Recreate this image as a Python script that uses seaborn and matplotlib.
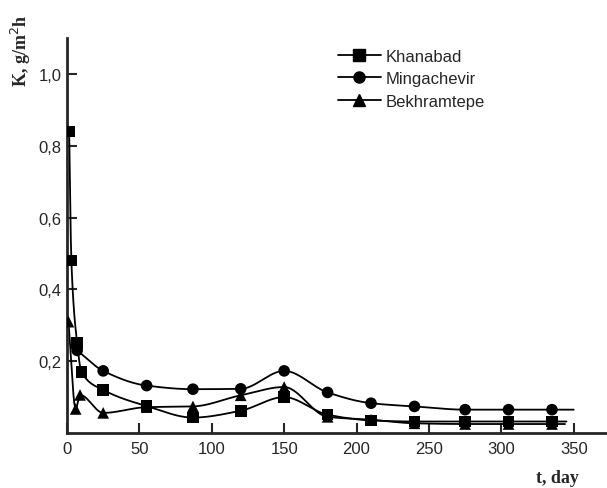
import numpy as np
import pandas as pd
import matplotlib
matplotlib.use("Agg")
import matplotlib.pyplot as plt
from matplotlib.lines import Line2D
import seaborn as sns

# data
t_khan = [1.5, 3, 7, 10, 25, 55, 87, 120, 150, 180, 210, 240, 275, 305, 335]
k_khan = [0.84, 0.48, 0.25, 0.17, 0.12, 0.075, 0.043, 0.062, 0.10, 0.051,
          0.035, 0.032, 0.032, 0.032, 0.032]
t_ming = [7, 25, 55, 87, 120, 150, 180, 210, 240, 275, 305, 335]
k_ming = [0.23, 0.173, 0.132, 0.122, 0.123, 0.173, 0.113, 0.083, 0.074,
          0.065, 0.065, 0.065]
t_bekh = [1, 6, 9, 25, 55, 87, 120, 150, 180, 210, 240, 275, 305, 335]
k_bekh = [0.31, 0.067, 0.106, 0.056, 0.072, 0.074, 0.105, 0.128, 0.045,
          0.037, 0.027, 0.025, 0.025, 0.025]
sites = ["Khanabad", "Mingachevir", "Bekhramtepe"]
markers = {"Khanabad": "s", "Mingachevir": "o", "Bekhramtepe": "^"}
tail_end = {"Khanabad": 345, "Mingachevir": 350, "Bekhramtepe": 344}

df = pd.concat([
    pd.DataFrame({"t": t_khan, "K": k_khan, "site": "Khanabad"}),
    pd.DataFrame({"t": t_ming, "K": k_ming, "site": "Mingachevir"}),
    pd.DataFrame({"t": t_bekh, "K": k_bekh, "site": "Bekhramtepe"}),
], ignore_index=True)


def pchip(x, y, xn):
    # monotone cubic through the points, flat beyond the last one
    x = np.asarray(x, float)
    y = np.asarray(y, float)
    h = np.diff(x)
    d = np.diff(y) / h
    m = np.zeros_like(y)
    m[0] = d[0]
    for k in range(1, len(x) - 1):
        if d[k - 1] * d[k] > 0:
            w1 = 2 * h[k] + h[k - 1]
            w2 = h[k] + 2 * h[k - 1]
            m[k] = (w1 + w2) / (w1 / d[k - 1] + w2 / d[k])
    xn = np.clip(xn, x[0], x[-1])
    i = np.clip(np.searchsorted(x, xn) - 1, 0, len(x) - 2)
    s = (xn - x[i]) / h[i]
    h00 = 2 * s**3 - 3 * s**2 + 1
    h10 = s**3 - 2 * s**2 + s
    h01 = -2 * s**3 + 3 * s**2
    h11 = s**3 - s**2
    return h00 * y[i] + h10 * h[i] * m[i] + h01 * y[i + 1] + h11 * h[i] * m[i + 1]


sns.set_style("ticks")
plt.rcParams["font.family"] = ["Liberation Sans Narrow", "Liberation Sans", "DejaVu Sans"]

fig = plt.figure(figsize=(6.07, 4.89), dpi=100)
ax = fig.add_axes([67 / 607, 55 / 489, 540 / 607, 395 / 489])

for site in sites:
    sub = df[df["site"] == site]
    tt = np.linspace(sub["t"].min(), tail_end[site], 600)
    ax.plot(tt, pchip(sub["t"], sub["K"], tt), color="black", lw=1.3, zorder=2)

sns.scatterplot(data=df, x="t", y="K", style="site", markers=markers,
                color="black", s=70, edgecolor="black", linewidth=0,
                legend=False, ax=ax, zorder=3)

ax.set_xlim(0, 373)
ax.set_ylim(0, 1.1)
ax.set_xticks([0, 50, 100, 150, 200, 250, 300, 350])
ax.set_yticks([0.2, 0.4, 0.6, 0.8, 1.0])
ax.set_yticklabels(["0,2", "0,4", "0,6", "0,8", "1,0"])
ax.tick_params(direction="in", length=7, width=1.5, labelsize=12)
ax.tick_params(axis="x", pad=6)
ax.tick_params(axis="y", pad=4)
ax.set_xlabel("")
ax.set_ylabel("")
for sp in ["top", "right"]:
    ax.spines[sp].set_visible(False)
for sp in ["left", "bottom"]:
    ax.spines[sp].set_linewidth(2)

handles = [Line2D([], [], color="black", lw=1.3, marker=markers[s], markersize=8)
           for s in sites]
ax.legend(handles, sites, loc="upper left", bbox_to_anchor=(264 / 540, 0.99),
          frameon=False, handlelength=2.6, handletextpad=0.3, labelspacing=0.45,
          prop={"family": "Liberation Sans", "size": 12}, borderaxespad=0)

fig.text(21 / 607, 1 - 51 / 489, "K, g/m$^{2}$h", rotation=90, ha="center", va="center",
         family="Liberation Serif", fontweight="bold", fontsize=13)
fig.text(557 / 607, 6 / 489, "t, day", ha="center", va="baseline",
         family="Liberation Serif", fontweight="bold", fontsize=13)

fig.savefig("out.png", dpi=100)
